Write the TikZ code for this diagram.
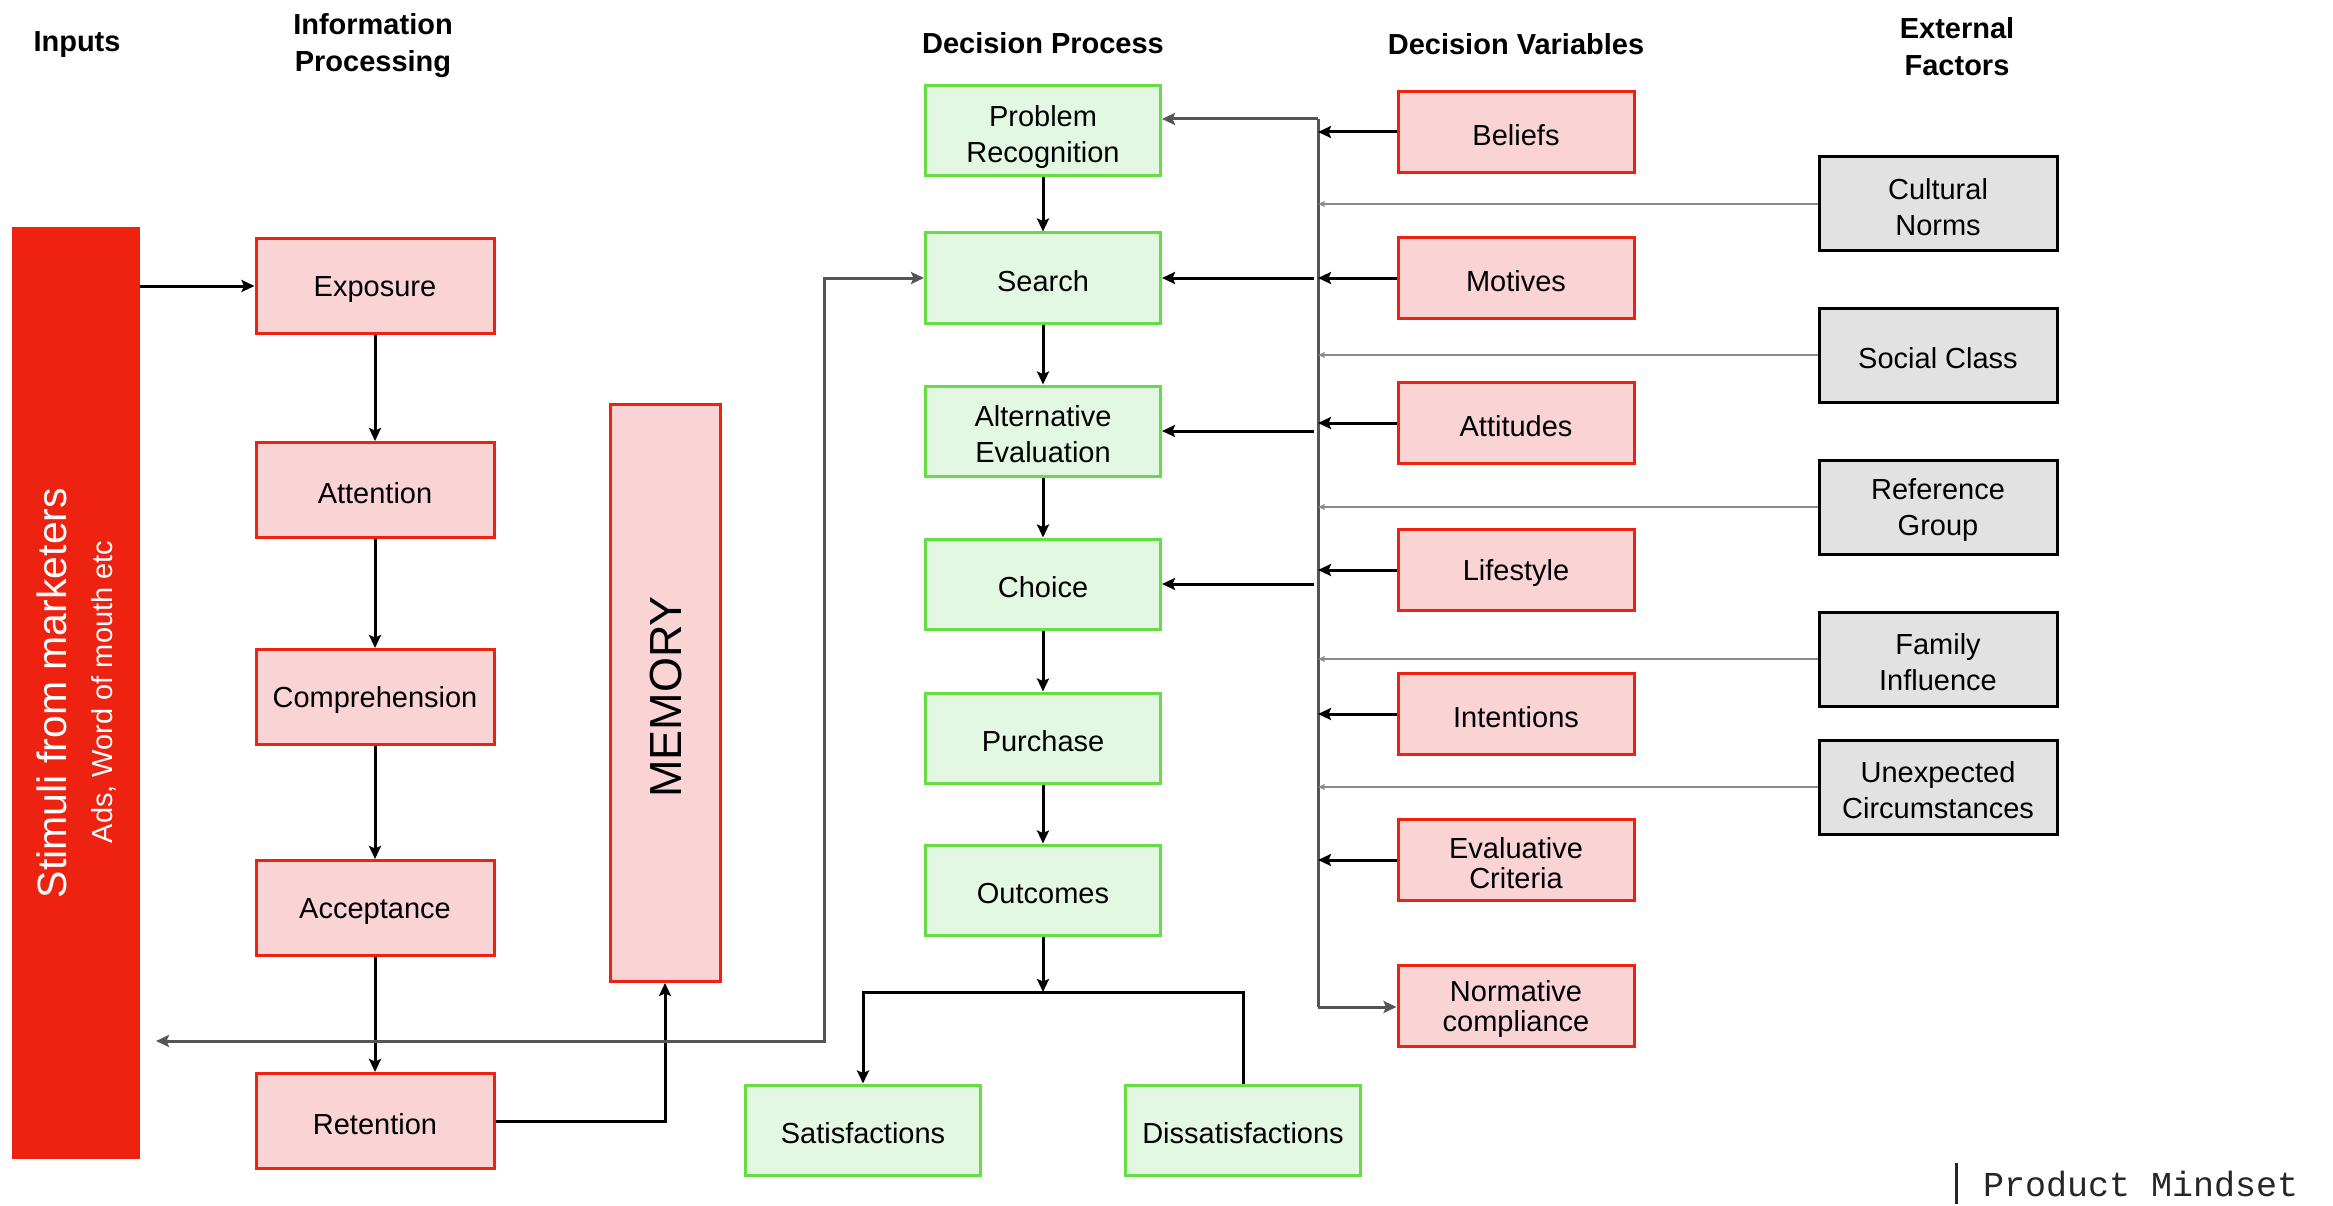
\documentclass[tikz,border=0pt]{standalone}
\usepackage{fontspec}
\setmainfont{Liberation Sans}
\setmonofont{Liberation Mono}
\usetikzlibrary{arrows.meta}
\definecolor{redline}{HTML}{EE2211}
\definecolor{redfill}{HTML}{FAD4D4}
\definecolor{grnline}{HTML}{66DD44}
\definecolor{grnfill}{HTML}{E2F8E2}
\definecolor{gryfill}{HTML}{E2E2E2}
\definecolor{stimred}{HTML}{EE2211}
\definecolor{busgray}{HTML}{555555}
\definecolor{extgray}{HTML}{8A8A8A}
\begin{document}
\begin{tikzpicture}[x=1pt,y=-1pt,
  boxtxt/.style={font=\fontsize{29}{36}\selectfont, align=center, inner sep=0pt,
    execute at begin node={\rule{0pt}{28pt}}},
  mlbl/.style={font=\fontsize{29}{36}\selectfont, align=center, inner sep=0pt, yshift=-3pt},
  mtext/.style={label={[mlbl]center:#1}},
  redbox/.style={boxtxt, draw=redline, fill=redfill, line width=3pt},
  lcol/.style={redbox, minimum width=238pt, minimum height=95pt},
  dvbox/.style={redbox, minimum width=236pt, minimum height=81pt},
  grnbox/.style={boxtxt, draw=grnline, fill=grnfill, line width=3pt, minimum width=235pt, minimum height=90pt},
  extbox/.style={boxtxt, draw=black, fill=gryfill, line width=3pt, minimum width=238pt, minimum height=94pt},
  hdr/.style={font=\bfseries\fontsize{29}{37}\selectfont, align=center, inner sep=0pt},
  tip/.tip={Stealth[length=13pt,width=12pt,inset=2.5pt]},
  arr/.style={draw=black, line width=3pt, -tip},
  busline/.style={draw=busgray, line width=3pt},
  busarr/.style={draw=busgray, line width=3pt, -tip},
  fbarr/.style={draw=busgray, line width=3pt, tip-tip},
  extarr/.style={draw=extgray, line width=2pt, -{Stealth[length=7pt,width=6pt,inset=1.5pt]}}
]
\useasboundingbox (0,0) rectangle (2333,1206);

% headers
\node[hdr] (hInputs) at (77,45) {Inputs};
\node[hdr] (hInfo) at (373,46) {Information\\Processing};
\node[hdr] (hDP) at (1043,43) {Decision Process};
\node[hdr] (hDV) at (1516,44) {Decision Variables};
\node[hdr] (hEF) at (1957,47) {External\\Factors};

% stimuli
\node[fill=stimred, minimum width=128pt, minimum height=931pt, inner sep=0pt] (stimuli) at (76,693) {};
\node[rotate=90, text=white, inner sep=0pt, font=\fontsize{41}{48}\selectfont] (stimA) at (52,693) {Stimuli from marketers};
\node[rotate=90, text=white, inner sep=0pt, font=\fontsize{29}{34}\selectfont] (stimB) at (104,692) {Ads, Word of mouth etc};

% information processing
\node[lcol] (exposure) at (375,286) {Exposure};
\node[lcol] (attention) at (375,490) {Attention};
\node[lcol] (comprehension) at (375,697) {Comprehension};
\node[lcol] (acceptance) at (375,908) {Acceptance};
\node[lcol] (retention) at (375,1121) {Retention};
\node[draw=redline, fill=redfill, line width=3pt, minimum width=110pt, minimum height=577pt, inner sep=0pt] (memory) at (665,693) {};
\node[rotate=90, inner sep=0pt, font=\fontsize{45}{52}\selectfont] (memtxt) at (666,697) {MEMORY};

% decision process
\node[grnbox, label={[mlbl, yshift=-3pt]center:Problem\\Recognition}] (prob) at (1043,131) {};
\node[grnbox] (search) at (1043,278) {Search};
\node[grnbox, mtext={Alternative\\Evaluation}] (alt) at (1043,431) {};
\node[grnbox] (choice) at (1043,584) {Choice};
\node[grnbox] (purchase) at (1043,738) {Purchase};
\node[grnbox] (outcomes) at (1043,890) {Outcomes};
\node[grnbox] (satis) at (863,1130) {Satisfactions};
\node[grnbox] (dissat) at (1243,1130) {Dissatisfactions};

% decision variables
\node[dvbox] (beliefs) at (1516,132) {Beliefs};
\node[dvbox] (motives) at (1516,278) {Motives};
\node[dvbox] (attitudes) at (1516,423) {Attitudes};
\node[dvbox] (lifestyle) at (1516,570) {Lifestyle};
\node[dvbox] (intentions) at (1516,714) {Intentions};
\node[dvbox, mtext={Evaluative\\[-6pt]Criteria}] (evalcrit) at (1516,860) {};
\node[dvbox, mtext={Normative\\[-6pt]compliance}] (normative) at (1516,1006) {};

% external factors
\node[extbox, mtext={Cultural\\Norms}] (cultural) at (1938,204) {};
\node[extbox] (social) at (1938,355) {Social Class};
\node[extbox, mtext={Reference\\Group}] (reference) at (1938,507) {};
\node[extbox, mtext={Family\\Influence}] (family) at (1938,659) {};
\node[extbox, mtext={Unexpected\\Circumstances}] (unexpected) at (1938,787) {};

% watermark
\node[inner sep=0pt, text=black!85, font=\ttfamily\fontsize{35}{40}\selectfont, anchor=west] (brand) at (1983,1184) {Product Mindset};
\coordinate (barTop) at (1956,1163);
\coordinate (barBot) at (1956,1204);
\draw[line width=3pt, black!85] (barTop) -- (barBot);

% stimuli -> exposure
\draw[arr] (stimuli.east |- exposure.west) -- (exposure.west);
% info processing chain
\draw[arr] (exposure) -- (attention);
\draw[arr] (attention) -- (comprehension);
\draw[arr] (comprehension) -- (acceptance);
\draw[arr] (acceptance) -- (retention);
\draw[arr] (retention.east) -| (memory.south);

% feedback
\coordinate (fbl) at (156,1041);
\coordinate (fbc) at (824,1041);
\draw[fbarr] (fbl) -- (fbc) |- (search.west);

% decision chain
\draw[arr] (prob) -- (search);
\draw[arr] (search) -- (alt);
\draw[arr] (alt) -- (choice);
\draw[arr] (choice) -- (purchase);
\draw[arr] (purchase) -- (outcomes);
\coordinate (jn) at (1043,992);
\draw[arr] (outcomes) -- (jn);
\draw[arr] (dissat.north) |- (satis.north |- jn) -- (satis.north);

% bus
\coordinate (bustop) at (1318,119);
\coordinate (busbot) at (1318,1007);
\draw[busline] (bustop) -- (busbot);
\draw[busarr] (bustop) -- (prob.east |- bustop);
\draw[busarr] (busbot) -- (normative.west |- busbot);

% DV -> bus
\foreach \n in {beliefs,motives,attitudes,lifestyle,intentions,evalcrit}
  \draw[arr] (\n.west) -- (\n.west -| bustop);

% bus -> decision boxes
\draw[arr] ([xshift=-4pt]search.east -| bustop) -- (search.east);
\draw[arr] ([xshift=-4pt]alt.east -| bustop) -- (alt.east);
\draw[arr] ([xshift=-4pt]choice.east -| bustop) -- (choice.east);

% external -> bus
\foreach \n in {cultural,social,reference,family,unexpected}
  \draw[extarr] (\n.west) -- (\n.west -| bustop);
\end{tikzpicture}
\end{document}
